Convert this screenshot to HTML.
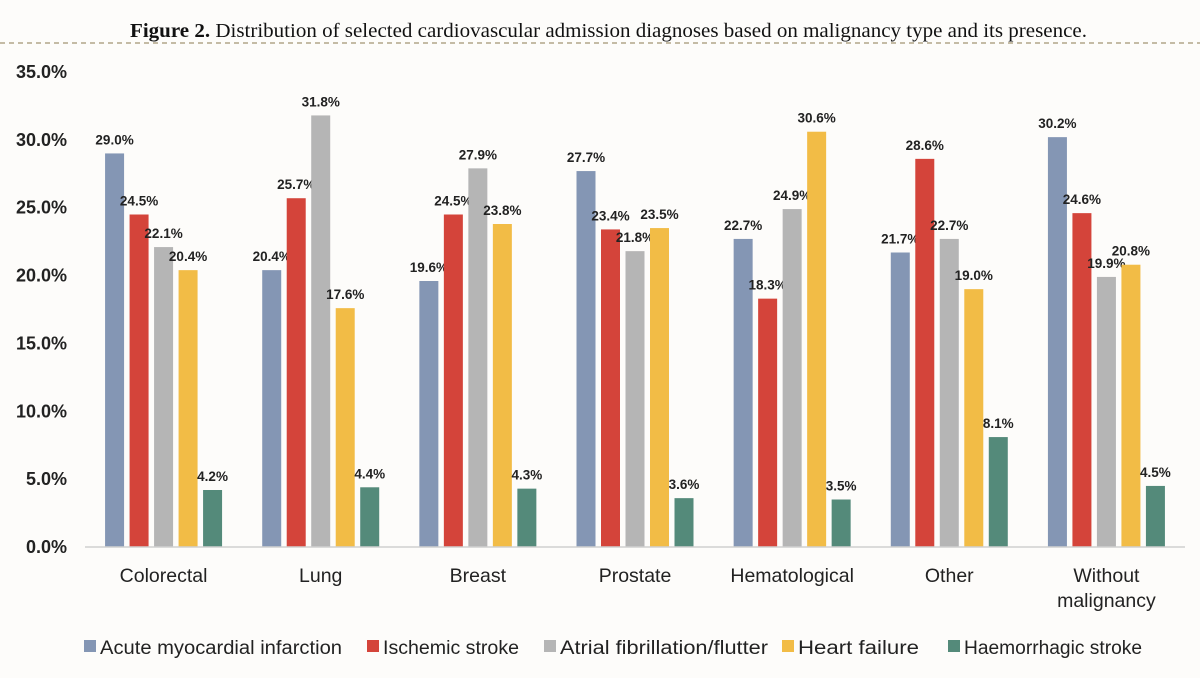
<!DOCTYPE html>
<html><head><meta charset="utf-8"><style>
html,body{margin:0;padding:0;background:#fdfcfa;}
svg{display:block;}
</style></head><body>
<svg id="chart" width="1200" height="678" viewBox="0 0 1200 678" xmlns="http://www.w3.org/2000/svg">
<rect x="0" y="0" width="1200" height="678" fill="#fdfcfa"/>
<line x1="0" y1="43" x2="1200" y2="43" stroke="#8a7a50" stroke-width="1" stroke-dasharray="5,4"/>
<text x="130" y="37" textLength="957" lengthAdjust="spacingAndGlyphs" font-family="Liberation Serif, serif" font-size="20" fill="#111"><tspan font-weight="bold">Figure 2.</tspan> Distribution of selected cardiovascular admission diagnoses based on malignancy type and its presence.</text>
<g id="yaxis"></g>
<g id="bars"></g>
<g id="xaxis"></g>
<g id="legend"></g>
</svg>
<script>
const categories = [["Colorectal"],["Lung"],["Breast"],["Prostate"],["Hematological"],["Other"],["Without","malignancy"]];
const seriesNames = ["Acute myocardial infarction","Ischemic stroke","Atrial fibrillation/flutter","Heart failure","Haemorrhagic stroke"];
const amiValues = [29.0,20.4,19.6,27.7,22.7,21.7,30.2];
const ischemicValues = [24.5,25.7,24.5,23.4,18.3,28.6,24.6];
const afValues = [22.1,31.8,27.9,21.8,24.9,22.7,19.9];
const hfValues = [20.4,17.6,23.8,23.5,30.6,19.0,20.8];
const haemValues = [4.2,4.4,4.3,3.6,3.5,8.1,4.5];
const yTicks = [0,5,10,15,20,25,30,35];

const series = [amiValues, ischemicValues, afValues, hfValues, haemValues];
const colors = ["#8496b4","#d4443a","#b5b5b5","#f2bc46","#548a7a"];
const NS = "http://www.w3.org/2000/svg";
const x0 = 85, plotW = 1100, y0 = 547, yTop = 72, yMax = 35;
const yScale = v => y0 - (v / yMax) * (y0 - yTop);
const catW = plotW / categories.length;
const barW = 19, barStep = 24.5;
const xBar = (c, s) => x0 + catW * c + catW / 2 + (s - 2) * barStep - barW / 2;
function mk(tag, attrs, parent) { const e = document.createElementNS(NS, tag); for (const k in attrs) e.setAttribute(k, attrs[k]); parent.appendChild(e); return e; }

const yaxis = document.getElementById('yaxis');
yTicks.forEach(t => {
  const tx = mk('text', {x: 67, y: yScale(t) + 6, 'text-anchor': 'end', 'font-family': 'Liberation Sans, sans-serif', 'font-size': 18, 'font-weight': 'bold', fill: '#222'}, yaxis);
  tx.textContent = t.toFixed(1) + '%';
  
  
});

const bars = document.getElementById('bars');
series.forEach((vals, s) => {
  vals.forEach((v, c) => {
    const x = xBar(c, s), y = yScale(v);
    const r = mk('rect', {x: x, y: y, width: barW, height: y0 - y, fill: colors[s]}, bars);
    
    
    const lb = mk('text', {x: x + barW / 2, y: y - 9, 'text-anchor': 'middle', 'font-family': 'Liberation Sans, sans-serif', 'font-size': 13.5, 'font-weight': 'bold', fill: '#222'}, bars);
    lb.textContent = v.toFixed(1) + '%';
    
    
  });
});

const xaxis = document.getElementById('xaxis');
const ax = mk('line', {x1: x0, y1: y0, x2: x0 + plotW, y2: y0, stroke: '#d0d0d0', 'stroke-width': 1.5}, xaxis);


categories.forEach((lines, c) => {
  lines.forEach((ln, i) => {
    const t = mk('text', {x: x0 + catW * c + catW / 2, y: 582 + i * 25, 'text-anchor': 'middle', 'font-family': 'Liberation Sans, sans-serif', 'font-size': 19.5, fill: '#222'}, xaxis);
    t.textContent = ln;
    
    
  });
});

const legend = document.getElementById('legend');
const legX = [84, 367, 544, 782, 948];
const legW = [242, 136, 208, 121, 178];
seriesNames.forEach((n, i) => {
  const sq = mk('rect', {x: legX[i], y: 640, width: 12, height: 12, fill: colors[i]}, legend);
  
  
  const t = mk('text', {x: legX[i] + 16, y: 654, textLength: legW[i], lengthAdjust: 'spacingAndGlyphs', 'font-family': 'Liberation Sans, sans-serif', 'font-size': 19, fill: '#222'}, legend);
  t.textContent = n;
  
  
});
</script>
</body></html>
